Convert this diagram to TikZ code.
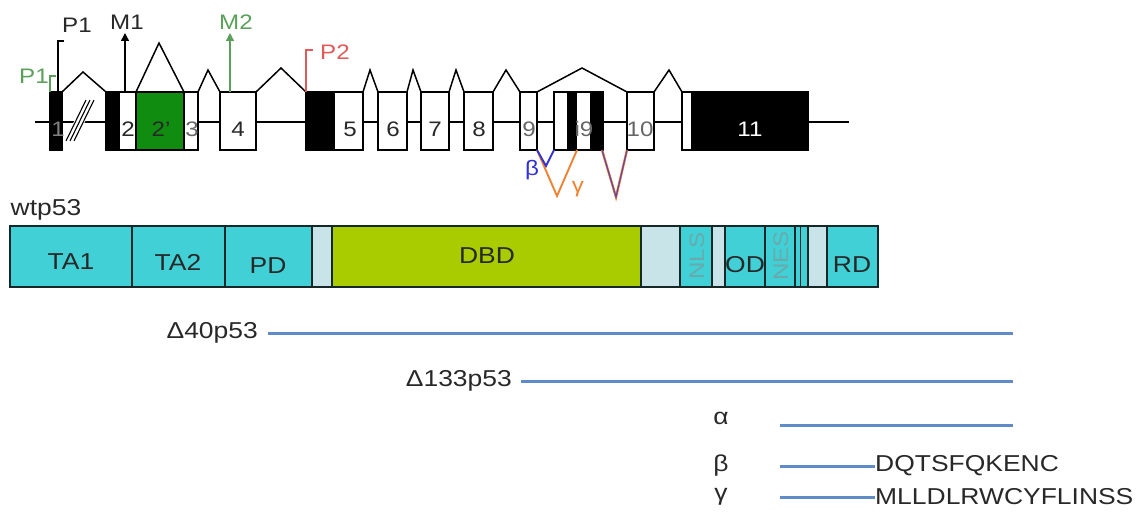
\documentclass[tikz,border=0pt]{standalone}
\usepackage{fontspec}
\setmainfont[FakeStretch=1.15]{Liberation Sans}
\usetikzlibrary{arrows.meta}
\definecolor{cyanD}{RGB}{64,208,214}
\definecolor{lightD}{RGB}{200,228,232}
\definecolor{dbdG}{RGB}{168,204,0}
\definecolor{exG}{RGB}{16,140,16}
\definecolor{isoB}{RGB}{95,140,200}
\definecolor{nlsT}{RGB}{105,170,172}
\definecolor{greenL}{RGB}{90,160,90}
\definecolor{redL}{RGB}{225,90,90}
\definecolor{betaB}{RGB}{50,50,210}
\definecolor{gamO}{RGB}{240,130,50}
\definecolor{txt}{RGB}{40,40,40}
\newcommand\exon[4]{\node[exonbox,fill=#4,minimum width={#3-#2}] (#1) at ({(#2+#3)/2},121) {};}
\newcommand\dom[4]{\node[dombox,fill=#4,minimum width={#3-#2}] (#1) at ({(#2+#3)/2},256.5) {};}
\begin{document}
\begin{tikzpicture}[x=1pt,y=-1pt,
  exonbox/.style={draw=black,line width=1.3pt,inner sep=0pt,outer sep=0pt,minimum height=58},
  dombox/.style={draw={rgb,255:red,20;green,40;blue,40},line width=1.4pt,inner sep=0pt,outer sep=0pt,minimum height=61},
  splice/.style={draw=black,line width=1.5pt,line join=miter},
  exlab/.style={font=\fontsize{21}{24}\selectfont,text=txt,inner sep=0pt},
  glab/.style={font=\fontsize{21}{24}\selectfont,inner sep=0pt},
  lab/.style={font=\fontsize{23}{26}\selectfont,text=txt,inner sep=0pt},
  iso/.style={draw=isoB,line width=3pt}]
\useasboundingbox (0,0) rectangle (1148,513);
% baseline
\coordinate (bl0) at (35,122);
\coordinate (bl1) at (849,122);
\draw[line width=1.6pt] (bl0) -- (bl1);
% double slash
\draw[white,line width=10pt] (70,141) -- (90,100);
\foreach \d in {-4,0,4}{\draw[line width=1.1pt] (70+\d,141) -- (90+\d,100);}
% exons
\exon{e1}{50}{62}{black}
\exon{e2}{106}{136}{white}
\fill (106,92) rectangle (120,150);
\exon{e2p}{136}{184}{exG}
\exon{e3}{184}{198}{white}
\exon{e4}{220}{256}{white}
\exon{e5}{306}{363}{white}
\fill (306,92) rectangle (335,150);
\exon{e6}{378}{407}{white}
\exon{e7}{421}{449}{white}
\exon{e8}{464}{493}{white}
\exon{e9}{520}{537}{white}
\exon{ei9}{554}{603}{white}
\fill (567,92) rectangle (577,150);
\fill (590,92) rectangle (603,150);
\exon{e10}{627}{654}{white}
\exon{e11}{682}{808}{white}
\fill (691,92) rectangle (808,150);
% exon labels
\node[exlab,text=gray] (l1) at (58,129) {1};
\node[exlab] (l2) at (128,129) {2};
\node[exlab] (l2p) at (161,129) {2'};
\node[exlab,text=gray!80!black] (l3) at (192,129) {3};
\node[exlab] (l4) at (238,129) {4};
\node[exlab] (l5) at (350,129) {5};
\node[exlab] (l6) at (393,129) {6};
\node[exlab] (l7) at (435,129) {7};
\node[exlab] (l8) at (479,129) {8};
\node[exlab,text=gray!80!black] (l9) at (529,129) {9};
\node[exlab,text=gray!80!black] (li9) at (584,129) {i9};
\node[exlab,text=gray!80!black] (l10) at (640,129) {10};
\node[exlab,text=white] (l11) at (750,129) {11};
% splices
\draw[splice] (e1.north east) -- (83,72) -- (e2.north west);
\draw[splice] (e2.north east) -- (159,43) -- (e3.north west);
\draw[splice] (e3.north east) -- (208,70) -- (e4.north west);
\draw[splice] (e4.north east) -- (281,68) -- (e5.north west);
\draw[splice] (e5.north east) -- (370,70) -- (e6.north west);
\draw[splice] (e6.north east) -- (413,70) -- (e7.north west);
\draw[splice] (e7.north east) -- (456,70) -- (e8.north west);
\draw[splice] (e8.north east) -- (506,70) -- (e9.north west);
\draw[splice] (e9.north east) -- (582,68) -- (e10.north west);
\draw[splice] (e10.north east) -- (669,70) -- (e11.north west);
% alternative splicing below
\draw[gamO,line width=1.9pt] (e9.south east) -- (557,196) -- (577,150);
\draw[betaB,line width=1.9pt] (e9.south east) -- (546,166) -- (ei9.south west);
\draw[gamO,line width=2.4pt] (602,150) -- (616,197) -- (e10.south west);
\draw[betaB!75!gamO,line width=1.2pt] (602,150) -- (616,197) -- (e10.south west);
\node[glab,text=betaB] (tb) at (532,170) {β};
\node[glab,text=gamO] (tg) at (578,189) {γ};
% promoters and methionines
\draw[black,line width=1.2pt] (58,92) -- (58,41) -- (64,41);
\node[glab,text=txt] (p1) at (77,25) {P1};
\draw[greenL,line width=1.2pt] (50,92) -- (50,76) -- (56,76);
\node[glab,text=greenL] (p1g) at (34,76) {P1};
\draw[redL,line width=1.2pt] (306,92) -- (306,50) -- (313,50);
\node[glab,text=redL] (p2) at (335,52) {P2};
\draw[black,line width=1.4pt,-{Triangle[length=8pt,width=8pt]}] (125,92) -- (125,33);
\node[glab,text=txt] (m1) at (127,22) {M1};
\draw[greenL,line width=1.4pt,-{Triangle[length=8pt,width=8pt]}] (230,92) -- (230,33);
\node[glab,text=greenL] (m2) at (236,22) {M2};
% protein
\node[lab] (wt) at (46,210) {wtp53};
\dom{dTA1}{10}{132}{cyanD}
\dom{dTA2}{132}{225}{cyanD}
\dom{dPD}{225}{312}{cyanD}
\dom{dL1}{312}{332}{lightD}
\dom{dDBD}{332}{641}{dbdG}
\dom{dL2}{641}{680}{lightD}
\dom{dNLS}{680}{712}{cyanD}
\dom{dL3}{712}{725}{lightD}
\dom{dOD}{725}{765}{cyanD}
\dom{dNES}{765}{795}{cyanD}
\dom{dC}{795}{808}{cyanD}
\dom{dL4}{808}{827}{lightD}
\dom{dRD}{827}{878}{cyanD}
\draw[line width=1pt,draw={rgb,255:red,20;green,40;blue,40}] (800,226) -- (800,287);
\node[lab] (tTA1) at (71,262) {TA1};
\node[lab] (tTA2) at (178,262) {TA2};
\node[lab] (tPD) at (268,266) {PD};
\node[lab] (tDBD) at (487,256) {DBD};
\node[lab,rotate=90,text=nlsT,font=\fontsize{21}{24}\selectfont] (tNLS) at (697,256) {NLS};
\node[lab] (tOD) at (745,265) {OD};
\node[lab,rotate=90,text=nlsT,font=\fontsize{21}{24}\selectfont] (tNES) at (781,256) {NES};
\node[lab] (tRD) at (852,265) {RD};
% isoforms
\node[lab,anchor=east] (d40) at (258,333) {Δ40p53};
\coordinate (d40a) at (268,333);
\coordinate (d40b) at (1013,333);
\draw[iso] (d40a) -- (d40b);
\node[lab,anchor=east] (d133) at (512,381) {Δ133p53};
\coordinate (d133a) at (521,381);
\coordinate (d133b) at (1013,381);
\draw[iso] (d133a) -- (d133b);
\node[lab] (ta) at (721,418) {α};
\coordinate (aa) at (780,425);
\coordinate (ab) at (1013,425);
\draw[iso] (aa) -- (ab);
\node[lab] (tbb) at (721,466) {β};
\coordinate (ba) at (780,466);
\node[lab,anchor=west] (bseq) at (875,466) {DQTSFQKENC};
\draw[iso] (ba) -- (bseq.west);
\node[lab] (tgg) at (721,497) {γ};
\coordinate (ga) at (780,497);
\node[lab,anchor=west] (gseq) at (875,497) {MLLDLRWCYFLINSS};
\draw[iso] (ga) -- (gseq.west);
\end{tikzpicture}
\end{document}
